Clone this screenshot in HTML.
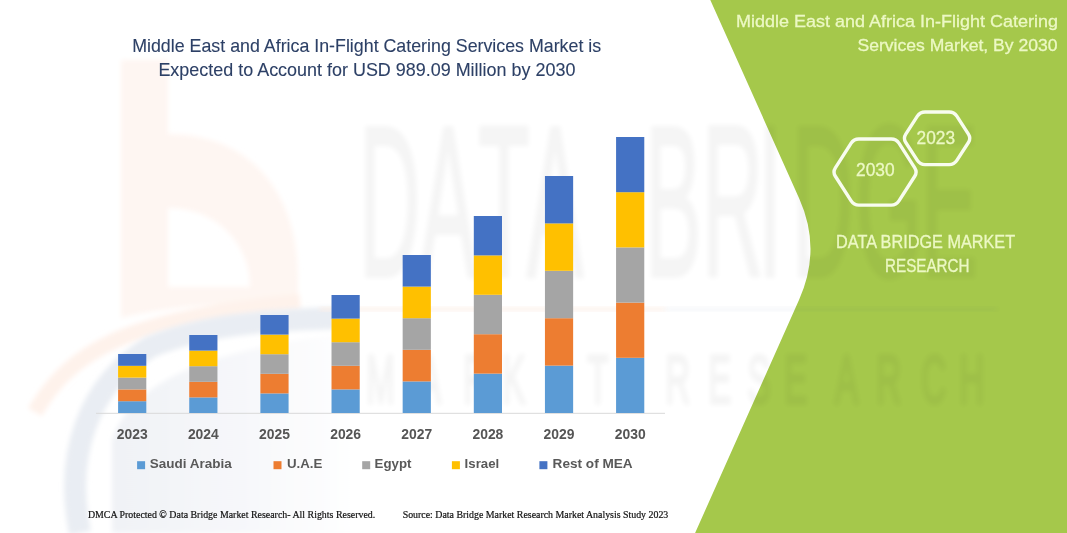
<!DOCTYPE html>
<html><head><meta charset="utf-8"><style>
html,body{margin:0;padding:0;background:#fff;}
body{width:1067px;height:533px;overflow:hidden;position:relative;}
svg{position:absolute;left:0;top:0;display:block;}
text{font-family:"Liberation Sans",sans-serif;}
.serif{font-family:"Liberation Serif",serif;}
.wm text{vector-effect:non-scaling-stroke;}
</style></head><body>
<svg width="1067" height="533" viewBox="0 0 1067 533">
<defs>
<filter id="bl3" x="-20%" y="-20%" width="140%" height="140%"><feGaussianBlur stdDeviation="2.5"/></filter>
<filter id="bl6" x="-20%" y="-20%" width="140%" height="140%"><feGaussianBlur stdDeviation="6"/></filter>
</defs>
<rect width="1067" height="533" fill="#ffffff"/>
<!-- watermark logo (b) -->
<linearGradient id="gint" x1="0" y1="0" x2="1" y2="0"><stop offset="0" stop-color="#F0F2F6"/><stop offset="0.5" stop-color="#F6F7FA"/><stop offset="1" stop-color="#FFFFFF"/></linearGradient>
<g filter="url(#bl3)">
<path fill-rule="evenodd" fill="#FEF6F2" d="M121,60 H168 V134 C250,134 298,192 298,278 V302 C230,302 170,306 121,318 Z M168,208 C218,208 250,245 250,287 H168 Z"/>
<path d="M35,412 C70,352 125,318 300,302" stroke="#FEF2EB" stroke-width="16" fill="none"/>
</g>
<g filter="url(#bl3)" fill="none">
<path d="M112,533 L112,440 C130,385 200,352 330,336 L360,336 L360,533 Z" fill="url(#gint)" stroke="none"/>
<path d="M80,533 C64,455 88,385 150,347 C200,326 260,320 340,318" stroke="#E9EDF3" stroke-width="22"/>
</g>
<!-- green panel -->
<path d="M710.3,0 L1067,0 L1067,533 L695.1,533 L799.2,299.4 Q821.8,248.8 799.2,198.4 Z" fill="#A5C84B"/>
<!-- big watermark text -->
<g filter="url(#bl3)" fill="#000" stroke="#000" stroke-width="3" opacity="0.04">
<g class="wm">
<text transform="translate(359.0,276) scale(0.395,1)" font-size="215">D</text>
<text transform="translate(419.8,276) scale(0.395,1)" font-size="215">A</text>
<text transform="translate(478.1,276) scale(0.395,1)" font-size="215">T</text>
<text transform="translate(526.8,276) scale(0.395,1)" font-size="215">A</text>
<text transform="translate(645.0,276) scale(0.395,1)" font-size="215">B</text>
<text transform="translate(702.0,276) scale(0.395,1)" font-size="215">R</text>
<text transform="translate(758.2,276) scale(0.395,1)" font-size="215">I</text>
<text transform="translate(792.0,276) scale(0.395,1)" font-size="215">D</text>
<text transform="translate(855.7,276) scale(0.395,1)" font-size="215">G</text>
<text transform="translate(921.0,276) scale(0.395,1)" font-size="215">E</text>
<text transform="translate(366.2,402.5) scale(0.5,1)" font-size="69">M</text>
<text transform="translate(417.9,402.5) scale(0.5,1)" font-size="69">A</text>
<text transform="translate(463.2,402.5) scale(0.5,1)" font-size="69">R</text>
<text transform="translate(502.2,402.5) scale(0.5,1)" font-size="69">K</text>
<text transform="translate(545.2,402.5) scale(0.5,1)" font-size="69">E</text>
<text transform="translate(587.2,402.5) scale(0.5,1)" font-size="69">T</text>
<text transform="translate(665.2,402.5) scale(0.5,1)" font-size="69">R</text>
<text transform="translate(708.2,402.5) scale(0.5,1)" font-size="69">E</text>
<text transform="translate(747.4,402.5) scale(0.5,1)" font-size="69">S</text>
<text transform="translate(784.2,402.5) scale(0.5,1)" font-size="69">E</text>
<text transform="translate(834.9,402.5) scale(0.5,1)" font-size="69">A</text>
<text transform="translate(876.2,402.5) scale(0.5,1)" font-size="69">R</text>
<text transform="translate(921.2,402.5) scale(0.5,1)" font-size="69">C</text>
<text transform="translate(959.2,402.5) scale(0.5,1)" font-size="69">H</text>
</g></g>
<rect x="320" y="307.5" width="345" height="3.5" fill="#FCEFE8" filter="url(#bl3)"/>
<rect x="665" y="307.5" width="332" height="3.5" fill="#3A5A90" opacity="0.06" filter="url(#bl3)"/>
<!-- title -->
<g fill="#2D4066" font-size="17.8" stroke="#2D4066" stroke-width="0.1">
<text x="132.2" y="51.6" textLength="469" lengthAdjust="spacingAndGlyphs">Middle East and Africa In-Flight Catering Services Market is</text>
<text x="158.4" y="75.9" textLength="417" lengthAdjust="spacingAndGlyphs">Expected to Account for USD 989.09 Million by 2030</text>
</g>
<!-- axis -->
<line x1="96" y1="413.3" x2="665" y2="413.3" stroke="#D9D9D9" stroke-width="1"/>
<g id="bars">
<rect x="118.10" y="401.20" width="28.2" height="11.80" fill="#5B9BD5"/>
<rect x="118.10" y="389.40" width="28.2" height="11.80" fill="#ED7D31"/>
<rect x="118.10" y="377.60" width="28.2" height="11.80" fill="#A5A5A5"/>
<rect x="118.10" y="365.80" width="28.2" height="11.80" fill="#FFC000"/>
<rect x="118.10" y="354.00" width="28.2" height="11.80" fill="#4472C4"/>
<rect x="189.24" y="397.40" width="28.2" height="15.60" fill="#5B9BD5"/>
<rect x="189.24" y="381.80" width="28.2" height="15.60" fill="#ED7D31"/>
<rect x="189.24" y="366.20" width="28.2" height="15.60" fill="#A5A5A5"/>
<rect x="189.24" y="350.60" width="28.2" height="15.60" fill="#FFC000"/>
<rect x="189.24" y="335.00" width="28.2" height="15.60" fill="#4472C4"/>
<rect x="260.38" y="393.40" width="28.2" height="19.60" fill="#5B9BD5"/>
<rect x="260.38" y="373.80" width="28.2" height="19.60" fill="#ED7D31"/>
<rect x="260.38" y="354.20" width="28.2" height="19.60" fill="#A5A5A5"/>
<rect x="260.38" y="334.60" width="28.2" height="19.60" fill="#FFC000"/>
<rect x="260.38" y="315.00" width="28.2" height="19.60" fill="#4472C4"/>
<rect x="331.52" y="389.40" width="28.2" height="23.60" fill="#5B9BD5"/>
<rect x="331.52" y="365.80" width="28.2" height="23.60" fill="#ED7D31"/>
<rect x="331.52" y="342.20" width="28.2" height="23.60" fill="#A5A5A5"/>
<rect x="331.52" y="318.60" width="28.2" height="23.60" fill="#FFC000"/>
<rect x="331.52" y="295.00" width="28.2" height="23.60" fill="#4472C4"/>
<rect x="402.66" y="381.40" width="28.2" height="31.60" fill="#5B9BD5"/>
<rect x="402.66" y="349.80" width="28.2" height="31.60" fill="#ED7D31"/>
<rect x="402.66" y="318.20" width="28.2" height="31.60" fill="#A5A5A5"/>
<rect x="402.66" y="286.60" width="28.2" height="31.60" fill="#FFC000"/>
<rect x="402.66" y="255.00" width="28.2" height="31.60" fill="#4472C4"/>
<rect x="473.80" y="373.60" width="28.2" height="39.40" fill="#5B9BD5"/>
<rect x="473.80" y="334.20" width="28.2" height="39.40" fill="#ED7D31"/>
<rect x="473.80" y="294.80" width="28.2" height="39.40" fill="#A5A5A5"/>
<rect x="473.80" y="255.40" width="28.2" height="39.40" fill="#FFC000"/>
<rect x="473.80" y="216.00" width="28.2" height="39.40" fill="#4472C4"/>
<rect x="544.94" y="365.60" width="28.2" height="47.40" fill="#5B9BD5"/>
<rect x="544.94" y="318.20" width="28.2" height="47.40" fill="#ED7D31"/>
<rect x="544.94" y="270.80" width="28.2" height="47.40" fill="#A5A5A5"/>
<rect x="544.94" y="223.40" width="28.2" height="47.40" fill="#FFC000"/>
<rect x="544.94" y="176.00" width="28.2" height="47.40" fill="#4472C4"/>
<rect x="616.08" y="357.80" width="28.2" height="55.20" fill="#5B9BD5"/>
<rect x="616.08" y="302.60" width="28.2" height="55.20" fill="#ED7D31"/>
<rect x="616.08" y="247.40" width="28.2" height="55.20" fill="#A5A5A5"/>
<rect x="616.08" y="192.20" width="28.2" height="55.20" fill="#FFC000"/>
<rect x="616.08" y="137.00" width="28.2" height="55.20" fill="#4472C4"/>
</g>
<g fill="#555555" font-size="13.9" font-weight="bold">
<text x="132.20" y="438.6" text-anchor="middle">2023</text>
<text x="203.34" y="438.6" text-anchor="middle">2024</text>
<text x="274.48" y="438.6" text-anchor="middle">2025</text>
<text x="345.62" y="438.6" text-anchor="middle">2026</text>
<text x="416.76" y="438.6" text-anchor="middle">2027</text>
<text x="487.90" y="438.6" text-anchor="middle">2028</text>
<text x="559.04" y="438.6" text-anchor="middle">2029</text>
<text x="630.18" y="438.6" text-anchor="middle">2030</text>
</g>
<!-- legend -->
<g font-size="13.1" font-weight="bold" fill="#595959">
<rect x="137.1" y="461.2" width="8" height="8" fill="#5B9BD5"/>
<text x="149.7" y="468.3" textLength="82" lengthAdjust="spacingAndGlyphs">Saudi Arabia</text>
<rect x="273.5" y="461.2" width="8" height="8" fill="#ED7D31"/>
<text x="286.9" y="468.3" textLength="35.4" lengthAdjust="spacingAndGlyphs">U.A.E</text>
<rect x="362.2" y="461.2" width="8" height="8" fill="#A5A5A5"/>
<text x="374.6" y="468.3" textLength="36.8" lengthAdjust="spacingAndGlyphs">Egypt</text>
<rect x="451.9" y="461.2" width="8" height="8" fill="#FFC000"/>
<text x="464.6" y="468.3" textLength="34.6" lengthAdjust="spacingAndGlyphs">Israel</text>
<rect x="539.4" y="461.2" width="8" height="8" fill="#4472C4"/>
<text x="552.6" y="468.3" textLength="80.1" lengthAdjust="spacingAndGlyphs">Rest of MEA</text>
</g>
<!-- footer -->
<g font-size="10" fill="#111" stroke="#111" stroke-width="0.2">
<text class="serif" x="87.9" y="518" textLength="287.3" lengthAdjust="spacingAndGlyphs">DMCA Protected © Data Bridge Market Research-  All Rights Reserved.</text>
<text class="serif" x="402.7" y="518" textLength="265.6" lengthAdjust="spacingAndGlyphs">Source: Data Bridge Market Research  Market Analysis Study 2023</text>
</g>
<!-- right panel -->
<g fill="#ECF8C4" font-size="17.4" stroke="#ECF8C4" stroke-width="0.3">
<text x="736" y="27.3" textLength="322" lengthAdjust="spacingAndGlyphs">Middle East and Africa In-Flight Catering</text>
<text x="857.5" y="51.2" textLength="200" lengthAdjust="spacingAndGlyphs">Services Market, By 2030</text>
</g>
<g fill="none" stroke="#F8FCEF" stroke-width="3.4" stroke-linejoin="round">
<path d="M835.35,176.26 Q832.65,172.05 835.35,167.84 L851.15,143.16 Q853.85,138.95 858.85,138.95 L891.25,138.95 Q896.25,138.95 898.95,143.16 L914.75,167.84 Q917.45,172.05 914.75,176.26 L898.95,200.94 Q896.25,205.15 891.25,205.15 L858.85,205.15 Q853.85,205.15 851.15,200.94 Z"/>
<path d="M905.77,142.50 Q903.05,138.30 905.77,134.10 L917.36,116.20 Q920.08,112.00 925.08,112.00 L949.12,112.00 Q954.12,112.00 956.84,116.20 L968.43,134.10 Q971.15,138.30 968.43,142.50 L956.84,160.40 Q954.12,164.60 949.12,164.60 L925.08,164.60 Q920.08,164.60 917.36,160.40 Z"/>
</g>
<g fill="#ECF8C4" font-size="17.8" stroke="#ECF8C4" stroke-width="0.3">
<text x="856" y="175.7" textLength="38.6" lengthAdjust="spacingAndGlyphs">2030</text>
<text x="916.6" y="144.1" textLength="38.5" lengthAdjust="spacingAndGlyphs">2023</text>
</g>
<g fill="#ECF8C4" font-size="17.6" stroke="#ECF8C4" stroke-width="0.3">
<text x="836.1" y="247.6" textLength="179" lengthAdjust="spacingAndGlyphs">DATA BRIDGE MARKET</text>
<text x="885" y="272.2" textLength="84.6" lengthAdjust="spacingAndGlyphs">RESEARCH</text>
</g>
</svg>
</body></html>
